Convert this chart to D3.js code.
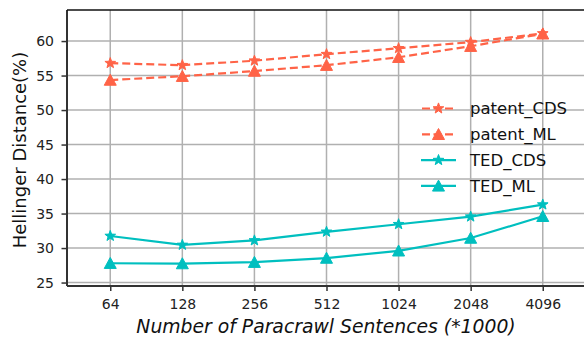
<!DOCTYPE html>
<html><head><meta charset="utf-8">
<script src="https://cdn.jsdelivr.net/npm/d3@7"></script>
<style>body{margin:0;background:#fff}svg{display:block}text{font-family:"DejaVu Sans",sans-serif}</style>
</head><body><svg id="c" width="584" height="338"></svg>
<script>
const categories = ["64","128","256","512","1024","2048","4096"];
const patentCDS = [56.8, 56.5, 57.15, 58.1, 58.95, 59.85, 61.1];
const patentML  = [54.35, 54.9, 55.65, 56.5, 57.65, 59.25, 61.05];
const tedCDS    = [31.75, 30.45, 31.1, 32.35, 33.45, 34.55, 36.3];
const tedML     = [27.8, 27.75, 27.95, 28.55, 29.6, 31.45, 34.6];
const yTicks = [25,30,35,40,45,50,55,60];
const seriesNames = ["patent_CDS","patent_ML","TED_CDS","TED_ML"];

const series = [
  {name: seriesNames[0], values: patentCDS, color: "#ff6347", dash: "8,4", marker: "star"},
  {name: seriesNames[1], values: patentML,  color: "#ff6347", dash: "8,4", marker: "tri"},
  {name: seriesNames[2], values: tedCDS,    color: "#00bfbf", dash: null, marker: "star"},
  {name: seriesNames[3], values: tedML,     color: "#00bfbf", dash: null, marker: "tri"}
];

const svg = d3.select("#c");
const L = 67, R = 586, T = 10, B = 286;
const x = d3.scaleLinear().domain([-0.6, categories.length - 0.4]).range([L, R]);
const y = d3.scaleLinear().domain([24.5, 64.5]).range([B, T]);

// grid
svg.append("g").selectAll("line").data(yTicks).join("line")
  .attr("x1", L).attr("x2", R).attr("y1", d => y(d)).attr("y2", d => y(d))
  .attr("stroke", "#b0b0b0").attr("stroke-width", 1.5);
svg.append("g").selectAll("line").data(categories).join("line")
  .attr("x1", (d,i) => x(i)).attr("x2", (d,i) => x(i)).attr("y1", T).attr("y2", B)
  .attr("stroke", "#b0b0b0").attr("stroke-width", 1.5);

// axes
const xAxis = d3.axisBottom(x).tickValues(d3.range(categories.length))
  .tickFormat(i => categories[i]).tickSize(5).tickPadding(8);
const gx = svg.append("g").attr("transform", `translate(0,${B})`).call(xAxis);
const yAxis = d3.axisLeft(y).tickValues(yTicks).tickSize(5.5).tickPadding(7.5);
const gy = svg.append("g").attr("transform", `translate(${L},0)`).call(yAxis);
[gx, gy].forEach(g => {
  g.select(".domain").remove();
  g.selectAll(".tick line").attr("stroke", "#333").attr("stroke-width", 1.5);
  g.selectAll(".tick text").attr("fill", "#222").style("font-size", "14px").style("font-family", "DejaVu Sans");
});

// spines
svg.append("line").attr("x1", L).attr("x2", L).attr("y1", T).attr("y2", B).attr("stroke", "#333").attr("stroke-width", 2);
svg.append("line").attr("x1", L).attr("x2", R).attr("y1", B).attr("y2", B).attr("stroke", "#333").attr("stroke-width", 2);
svg.append("line").attr("x1", L).attr("x2", R).attr("y1", T).attr("y2", T).attr("stroke", "#111").attr("stroke-width", 1.5);

function starPath(ro, ri) {
  const p = [];
  for (let k = 0; k < 10; k++) {
    const r = k % 2 ? ri : ro;
    const a = -Math.PI/2 + k * Math.PI/5;
    p.push([r*Math.cos(a), r*Math.sin(a)]);
  }
  return "M" + p.map(q => q[0].toFixed(2)+","+q[1].toFixed(2)).join("L") + "Z";
}
const STAR = starPath(5.6, 2.3);
const TRI = "M0,-5.8L6,5.2L-6,5.2Z";
function drawMarker(g, type, cx, cy, color) {
  g.append("path").attr("d", type === "star" ? STAR : TRI)
    .attr("transform", `translate(${cx},${cy})`)
    .attr("fill", color).attr("stroke", color).attr("stroke-width", 1);
}

const line = d3.line().x((d,i) => x(i)).y(d => y(d));
series.forEach(s => {
  const g = svg.append("g");
  g.append("path").attr("d", line(s.values)).attr("fill", "none")
    .attr("stroke", s.color).attr("stroke-width", 2.2)
    .attr("stroke-dasharray", s.dash);
  s.values.forEach((v,i) => drawMarker(g, s.marker, x(i), y(v), s.color));
});

// legend
const lg = svg.append("g");
series.forEach((s, k) => {
  const ly = 108.5 + k * 25.8;
  lg.append("line").attr("x1", 421).attr("x2", 456).attr("y1", ly).attr("y2", ly)
    .attr("stroke", s.color).attr("stroke-width", 2.2).attr("stroke-dasharray", s.dash ? "8,3.5" : null)
    .attr("stroke-dashoffset", s.dash ? -1 : null);
  drawMarker(lg, s.marker, 438.5, ly, s.color);
  lg.append("text").attr("x", 470).attr("y", ly).attr("dy", "0.36em")
    .style("font-size", "16.5px").attr("fill", "#111").text(s.name);
});

// axis labels
svg.append("text").attr("transform", `translate(26,${(T+B)/2 + 2}) rotate(-90)`)
  .attr("text-anchor", "middle").style("font-size", "18px").attr("fill", "#111")
  .text("Hellinger Distance(%)");
svg.append("text").attr("x", 326).attr("y", 332.5)
  .attr("text-anchor", "middle").style("font-size", "18.8px").style("font-style", "italic").attr("fill", "#111")
  .text("Number of Paracrawl Sentences (*1000)");
</script></body></html>
